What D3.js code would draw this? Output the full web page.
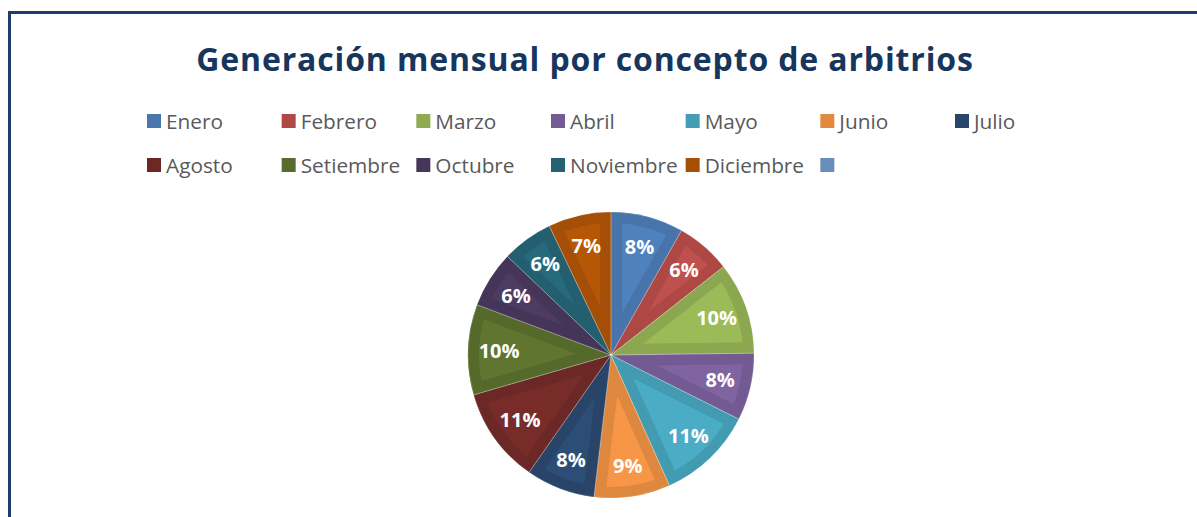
<!DOCTYPE html>
<html>
<head>
<meta charset="utf-8">
<script src="https://cdn.jsdelivr.net/npm/d3@7"></script>
<style>
  body { margin: 0; background: #fff; }
  svg { display: block; }
</style>
</head>
<body>
<div id="chart"></div>
<script>
var months = ["Enero", "Febrero", "Marzo", "Abril", "Mayo", "Junio", "Julio",
  "Agosto", "Setiembre", "Octubre", "Noviembre", "Diciembre", ""];
var shares = [8.2, 6.2, 10.4, 7.6, 10.9, 8.6, 7.8, 10.8, 10.2, 6.4, 5.8, 7.1, 0];
var labels = ["8%", "6%", "10%", "8%", "11%", "9%", "8%", "11%", "10%", "6%", "6%", "7%", ""];
var baseColors = ["#4f81bd", "#c0504d", "#9bbb59", "#8064a2", "#4bacc6", "#f79646", "#2c4d75",
  "#772c2a", "#5f7530", "#4d3b62", "#276a7c", "#b65708", "#729aca"];

var width = 1197,
  height = 517,
  radius = 143,
  cx = 611,
  cy = 355;

var data = months.map(function(m, i) {
  return { month: m, value: shares[i], label: labels[i], color: baseColors[i] };
});

var svg = d3.select('#chart')
  .append('svg')
  .attr('width', width)
  .attr('height', height);

// frame
svg.append('path')
  .attr('d', 'M9.5,' + height + ' V12.5 H' + width)
  .attr('fill', 'none')
  .attr('stroke', '#1f3d6b')
  .attr('stroke-width', 3);

// title
svg.append('text')
  .attr('x', 585)
  .attr('y', 71)
  .attr('text-anchor', 'middle')
  .style('font-family', 'Open Sans, sans-serif')
  .style('font-weight', 'bold')
  .style('font-size', '32px')
  .style('letter-spacing', '0.85px')
  .style('fill', '#17365d')
  .text('Generación mensual por concepto de arbitrios');

// legend
var legendX = d3.scalePoint()
  .domain(d3.range(7))
  .range([147, 955]);

var legend = svg.append('g').attr('class', 'legend')
  .selectAll('g')
  .data(data)
  .enter()
  .append('g')
  .attr('transform', function(d, i) {
    return 'translate(' + legendX(i % 7) + ',' + (114 + Math.floor(i / 7) * 44) + ')';
  });

legend.append('rect')
  .attr('width', 14)
  .attr('height', 14)
  .attr('fill', function(d) { return d3.color(d.color).darker(0.25); });

legend.append('text')
  .attr('x', 19)
  .attr('y', 14.5)
  .style('font-family', 'Open Sans, sans-serif')
  .style('font-size', '20.8px')
  .style('fill', '#595959')
  .text(function(d) { return d.month; });

// pie
var pie = d3.pie()
  .value(function(d) { return d.value; })
  .sort(null);

var arc = d3.arc()
  .innerRadius(0)
  .outerRadius(radius);

var labelArc = d3.arc()
  .innerRadius(112)
  .outerRadius(112);

var g = svg.append('g')
  .attr('transform', 'translate(' + cx + ',' + cy + ')');

var defs = svg.append('defs');
var arcs = pie(data).filter(function(d) { return d.data.value > 0; });

defs.selectAll('clipPath')
  .data(arcs)
  .enter()
  .append('clipPath')
  .attr('id', function(d, i) { return 'clip-' + i; })
  .append('path')
  .attr('d', arc);

// slice fill with darker inner band along edges
g.selectAll('path.slice')
  .data(arcs)
  .enter()
  .append('path')
  .attr('class', 'slice')
  .attr('d', arc)
  .attr('clip-path', function(d, i) { return 'url(#clip-' + i + ')'; })
  .attr('fill', function(d) { return d.data.color; })
  .attr('stroke', function(d) { return d3.color(d.data.color).darker(0.3); })
  .attr('stroke-width', 22)
  .attr('stroke-linejoin', 'miter');

g.selectAll('path.edge')
  .data(arcs)
  .enter()
  .append('path')
  .attr('class', 'edge')
  .attr('d', arc)
  .attr('fill', 'none')
  .attr('stroke', 'rgba(255,255,255,0.35)')
  .attr('stroke-width', 0.6);

g.selectAll('text.pct')
  .data(arcs)
  .enter()
  .append('text')
  .attr('class', 'pct')
  .attr('transform', function(d) { return 'translate(' + labelArc.centroid(d) + ')'; })
  .attr('text-anchor', 'middle')
  .attr('dy', '0.35em')
  .style('font-family', 'Open Sans, sans-serif')
  .style('font-weight', 'bold')
  .style('font-size', '20px')
  .style('fill', '#ffffff')
  .text(function(d) { return d.data.label; });
</script>
</body>
</html>
